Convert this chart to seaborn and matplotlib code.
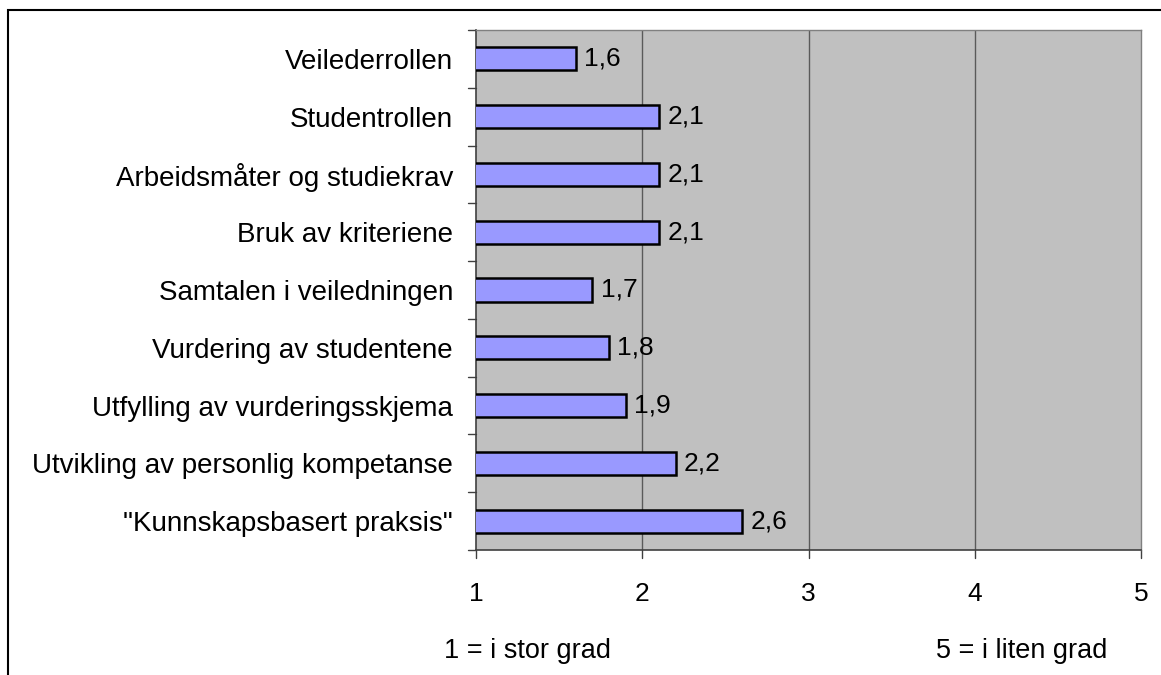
import matplotlib
matplotlib.use("Agg")
import matplotlib.pyplot as plt
import seaborn as sns
import pandas as pd
from matplotlib.patches import Rectangle

categories = ["Veilederrollen", "Studentrollen", "Arbeidsmåter og studiekrav",
              "Bruk av kriteriene", "Samtalen i veiledningen", "Vurdering av studentene",
              "Utfylling av vurderingsskjema", "Utvikling av personlig kompetanse",
              "\"Kunnskapsbasert praksis\""]
values = [1.6, 2.1, 2.1, 2.1, 1.7, 1.8, 1.9, 2.2, 2.6]
x_ticks = [1, 2, 3, 4, 5]
note_left = "1 = i stor grad"
note_right = "5 = i liten grad"

sns.set_theme(style="white")
plt.rcParams['font.family'] = ['Liberation Sans', 'DejaVu Sans']
plt.rcParams['text.color'] = 'black'
plt.rcParams['xtick.color'] = 'black'
plt.rcParams['ytick.color'] = 'black'

df = pd.DataFrame({"cat": categories, "val": values})

fig = plt.figure(figsize=(11.61, 6.75), dpi=100)
ax = fig.add_axes([476/1161, 1-550/675, (1141-476)/1161, (550-30)/675])
ax.set_facecolor("#C0C0C0")

sns.barplot(data=df, y="cat", x="val", orient="h", color="#9999FF", saturation=1,
            edgecolor="black", linewidth=1.8, width=0.4, ax=ax, zorder=3)

ax.set_xlim(1, 5)
ax.set_ylim(len(categories) - 0.5, -0.5)
ax.set_xticks(x_ticks)
ax.set_xticklabels([str(t) for t in x_ticks], fontsize=19)
for t in x_ticks[1:-1]:
    ax.axvline(t, color="#5a5a5a", lw=1, zorder=1)

ax.set_yticks(range(len(categories)))
ax.set_yticklabels(categories, fontsize=20)
ax.tick_params(axis='y', length=0, pad=16.5)
ax.tick_params(axis='x', length=0, pad=23)
for b in [i - 0.5 for i in range(len(categories) + 1)]:
    ax.plot([-0.012, 0], [b, b], transform=ax.get_yaxis_transform(), color="#404040",
            lw=1, clip_on=False)
for t in x_ticks:
    ax.plot([t, t], [0, -0.016], transform=ax.get_xaxis_transform(), color="#404040",
            lw=1, clip_on=False)

ax.set_xlabel("")
ax.set_ylabel("")

for i, v in enumerate(values):
    ax.text(v + 0.05, i, f"{v:.1f}".replace(".", ","), va="center", ha="left",
            fontsize=19, zorder=4)

for side in ["left", "bottom"]:
    ax.spines[side].set_color("#404040")
    ax.spines[side].set_linewidth(1.2)
for side in ["top", "right"]:
    ax.spines[side].set_color("#808080")
    ax.spines[side].set_linewidth(1)

fig.text(528/1161, 1-651/675, note_left, ha="center", va="center", fontsize=19.5)
fig.text(1022/1161, 1-651/675, note_right, ha="center", va="center", fontsize=19.5)

fig.patches.append(Rectangle((8/1161, -0.05), 1.2, 1 - 10/675 + 0.05, transform=fig.transFigure,
                             fill=False, edgecolor="black", lw=1.5, figure=fig))

fig.savefig("out.png", dpi=100)
